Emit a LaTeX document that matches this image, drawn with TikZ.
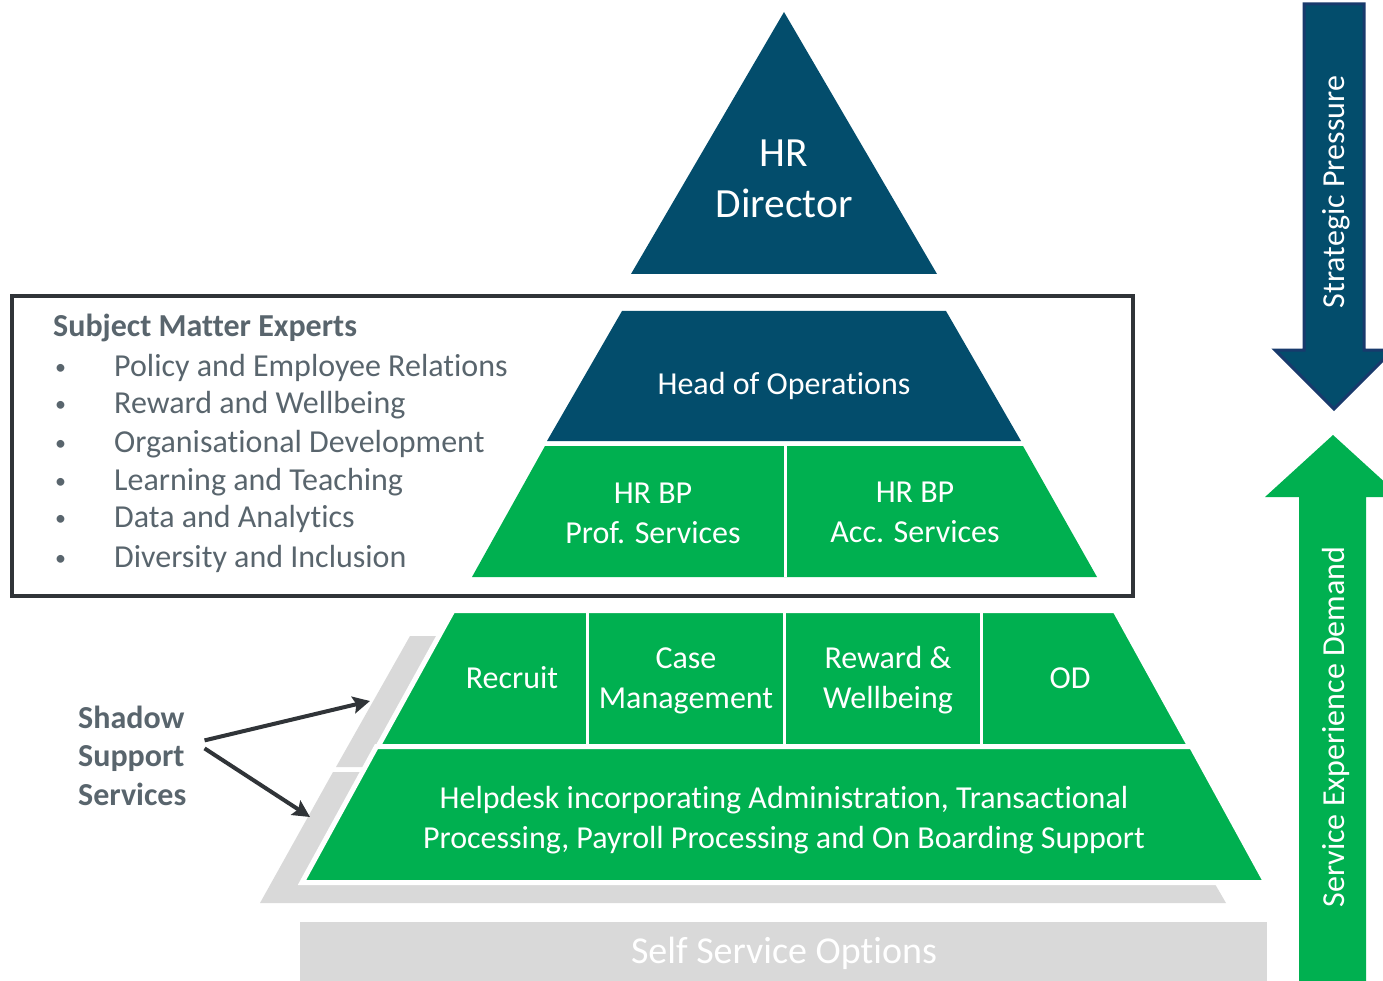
\documentclass[tikz,border=0pt]{standalone}
\usepackage{fontspec}
\setmainfont{Carlito}[Ligatures=NoCommon]
\usepackage{tikz}
\usetikzlibrary{arrows.meta,positioning}
\usepackage{xcolor}
\definecolor{hrblue}{RGB}{3,77,108}
\definecolor{hrgreen}{RGB}{0,176,80}
\definecolor{shadowgrey}{RGB}{217,217,217}
\definecolor{slate}{RGB}{89,101,109}
\definecolor{boxgrey}{RGB}{48,52,56}
\definecolor{edgeblue}{RGB}{24,58,108}
\tikzstyle{tier} = [fill=hrgreen, draw=white, line width=5pt, line join=miter]
\tikzstyle{shadowtier} = [fill=shadowgrey]
\tikzstyle{divider} = [white, line width=3pt]
\tikzstyle{tierlabel} = [text=white, align=center, anchor=base, inner sep=0pt, font=\fontsize{32}{40}\selectfont]
\tikzstyle{sme} = [text=slate, anchor=base west, inner sep=0pt, font=\fontsize{32}{38}\selectfont]
\tikzstyle{pointer} = [line width=4pt, color=boxgrey, -{Stealth[length=17pt,width=17pt,inset=3pt]}]
\newcommand{\smebullet}{\makebox[60pt][l]{\hspace*{1pt}\raisebox{2pt}{\fontsize{22}{22}\selectfont\textbullet}}}

\begin{document}
\begin{tikzpicture}[x=1pt, y=-1pt]
\useasboundingbox (0,0) rectangle (1383,981);
\clip (0,0) rectangle (1383,981);

% Top of the pyramid
\fill[hrblue] (784,12) -- (937,274) -- (631,274) -- cycle;
\node[tierlabel, font=\fontsize{41.5}{51}\selectfont] (director) at (784,218) {HR\\Director};

\fill[hrblue] (622,311) -- (946,311) -- (1021,441) -- (547,441) -- cycle;
\node[tierlabel] (headops) at (784,394) {Head of Operations};

\fill[hrgreen] (545,446) -- (1023,446) -- (1097,577) -- (472,577) -- cycle;
\draw[divider] (785,446) -- (785,577);
\node[tierlabel] (bpprof) at (653,543) {HR BP\\Prof. Services};
\node[tierlabel] (bpacc) at (915,542) {HR BP\\Acc. Services};

% Subject matter experts box
\draw[boxgrey, line width=4pt] (12,296) rectangle (1133,596);
\node[sme, font=\fontsize{32}{38}\bfseries] (smetitle) at (53,337) {Subject Matter Experts};
\node[sme] (sme1) at (54,376) {\smebullet Policy and Employee Relations};
\node[sme] (sme2) at (54,413) {\smebullet Reward and Wellbeing};
\node[sme] (sme3) at (54,452) {\smebullet Organisational Development};
\node[sme] (sme4) at (54,490) {\smebullet Learning and Teaching};
\node[sme] (sme5) at (54,527) {\smebullet Data and Analytics};
\node[sme] (sme6) at (54,567) {\smebullet Diversity and Inclusion};

% Shadow services behind the lower tiers
\fill[shadowtier] (410,636) -- (1068,636) -- (1142,767) -- (336,767) -- cycle;
\fill[shadowtier] (333,772) -- (1150,772) -- (1226,903) -- (260,903) -- cycle;

% Lower tiers
\draw[tier] (453,610.5) -- (1115,610.5) -- (1190,746.5) -- (378,746.5) -- cycle;
\draw[tier] (376.5,746.5) -- (1191.5,746.5) -- (1266,882.5) -- (302,882.5) -- cycle;
\draw[divider] (587,613) -- (587,744);
\draw[divider] (784,613) -- (784,744);
\draw[divider] (981,613) -- (981,744);

\node[tierlabel] (recruit) at (512,688) {Recruit};
\node[tierlabel] (casemgmt) at (686,708) {Case\\Management};
\node[tierlabel] (reward) at (888,708) {Reward \&\\Wellbeing};
\node[tierlabel] (od) at (1070,688) {OD};
\node[tierlabel] (helpdesk) at (784,848) {Helpdesk incorporating Administration, Transactional\\Processing, Payroll Processing and On Boarding Support};

% Self service base
\fill[shadowgrey] (300,922) rectangle (1267,985);
\node[tierlabel, font=\fontsize{38}{44}\selectfont] (selfservice) at (784,963) {Self Service Options};

% Shadow support label and its arrows
\node[sme, font=\fontsize{32}{38.5}\bfseries, align=left] (shadow) at (78,805) {Shadow\\Support\\Services};
\coordinate (upperstrip) at (370,701);
\coordinate (lowerstrip) at (310,817);
\draw[pointer] ([shift={(18,-15)}]shadow.east) -- (upperstrip);
\draw[pointer] ([shift={(18,-7)}]shadow.east) -- (lowerstrip);

% Pressure and demand arrows
\draw[fill=hrblue, draw=edgeblue, line width=3pt, line join=miter]
  (1304,4) -- (1364,4) -- (1364,350) -- (1393,350) -- (1334,409) -- (1275,350) -- (1304,350) -- cycle;
\node[tierlabel, rotate=90] (pressure) at (1344,192) {Strategic Pressure};

\fill[hrgreen] (1299,990) -- (1299,497) -- (1265,497) -- (1333,435) -- (1401,497) -- (1366,497) -- (1366,990) -- cycle;
\node[tierlabel, rotate=90] (demand) at (1344,727) {Service Experience Demand};
\end{tikzpicture}
\end{document}
